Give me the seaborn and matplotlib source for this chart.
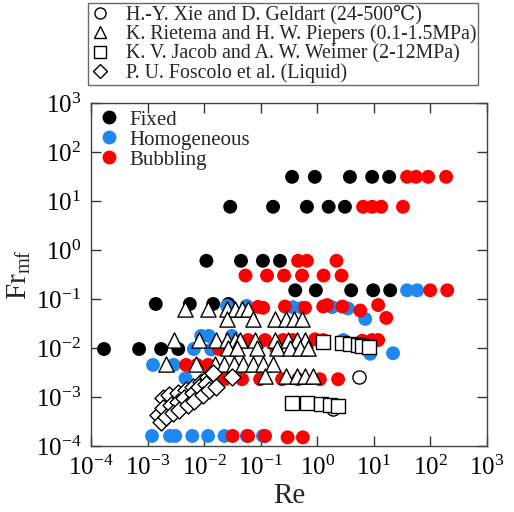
import numpy as np
import pandas as pd
import matplotlib
matplotlib.use("Agg")
import matplotlib.pyplot as plt
from matplotlib.lines import Line2D
import seaborn as sns

sns.set_style("ticks")
plt.rcParams['font.family'] = ['Liberation Serif', 'DejaVu Serif', 'Noto Sans CJK SC']
plt.rcParams['mathtext.fontset'] = 'custom'
plt.rcParams['mathtext.rm'] = 'Liberation Serif'
plt.rcParams['mathtext.it'] = 'Liberation Serif:italic'

# ---- data ----
fixed_re = [0.36, 0.91, 3.8, 9.4, 18.8,
            0.029, 0.166, 0.66, 1.6, 3.1,
            0.011, 0.045, 0.11, 0.22,
            0.41, 0.95, 4.0, 9.8, 19.6,
            0.0014, 0.0056, 0.0145, 0.027,
            1.7e-4, 7.1e-4, 1.74e-3, 3.5e-3]
fixed_fr = [31, 31, 31, 31, 31,
            7.6, 7.6, 7.6, 7.6, 7.6,
            0.6, 0.6, 0.6, 0.6,
            0.15, 0.15, 0.15, 0.15, 0.15,
            0.079, 0.079, 0.079, 0.079,
            0.0095, 0.0095, 0.0095, 0.0095]

homo_re = [0.0012, 0.0025, 0.0031, 0.0062, 0.0118, 0.023, 0.057, 0.11,
           0.0255, 0.057, 0.37, 0.54, 1.84, 3.5, 7.1,
           39, 59,
           0.0089, 0.0122, 0.031,
           0.0066, 0.0134, 2.9,
           8.7, 22,
           0.00125, 0.0029, 0.0047]
homo_fr = [1.6e-4, 1.6e-4, 1.6e-4, 1.6e-4, 1.6e-4, 1.6e-4, 1.6e-4, 1.6e-4,
           0.072, 0.072, 0.068, 0.066, 0.068, 0.064, 0.039,
           0.15, 0.15,
           0.0176, 0.0176, 0.0176,
           0.0095, 0.0093, 0.0145,
           0.0076, 0.0078,
           0.0045, 0.0045, 0.0024]

bub_re = [39, 56, 92, 191,
          6.5, 9.4, 13.6, 33,
          0.46, 0.66, 2.2,
          0.054, 0.13, 0.26, 0.54, 1.3, 2.7,
          100, 200,
          0.090, 0.111, 0.27, 0.61, 1.28, 1.5, 2.8, 5.8, 12, 16.7,
          0.060, 0.12, 0.25, 0.37, 0.92, 1.28, 6.3, 9.4, 12,
          0.0185, 0.19,
          0.0048, 0.0075, 0.0118,
          0.023, 0.047, 0.098, 0.24, 0.46, 1.12, 2.35,
          0.032, 0.060, 0.12, 0.30, 0.56]
bub_fr = [31, 31, 31, 31,
          7.6, 7.6, 7.6, 7.6,
          0.6, 0.6, 0.6,
          0.30, 0.30, 0.30, 0.30, 0.30, 0.30,
          0.15, 0.15,
          0.069, 0.066, 0.070, 0.066, 0.070, 0.075, 0.070, 0.058, 0.075, 0.041,
          0.0145, 0.0145, 0.0145, 0.0145, 0.015, 0.0145, 0.014, 0.0145, 0.0145,
          0.0095, 0.0095,
          0.0045, 0.0045, 0.0045,
          0.0023, 0.0023, 0.0023, 0.0023, 0.0023, 0.0023, 0.0023,
          1.6e-4, 1.6e-4, 1.6e-4, 1.5e-4, 1.5e-4]

xie_re = [1.9, 5.5]
xie_fr = [5.8e-4, 2.6e-3]

riet_re = [0.0046, 0.0118, 0.0255, 0.0354, 0.0471, 0.060,
           0.0255, 0.0736, 0.181, 0.282, 0.392, 0.543,
           0.0029, 0.0082, 0.0163, 0.0255, 0.0354, 0.0434, 0.080, 0.181, 0.307, 0.443, 0.614,
           0.0266, 0.0384, 0.0867, 0.196, 0.333, 0.50, 0.693,
           0.0021, 0.0072, 0.0157, 0.0226, 0.034, 0.049, 0.0736, 0.111, 0.166,
           0.120, 0.282, 0.443, 0.614, 0.849]
riet_fr = [0.063, 0.063, 0.063, 0.063, 0.063, 0.063,
           0.039, 0.039, 0.039, 0.039, 0.039, 0.039,
           0.0145, 0.0145, 0.0145, 0.0145, 0.0145, 0.0145, 0.0145, 0.0145, 0.0145, 0.0145, 0.0145,
           0.010, 0.010, 0.010, 0.010, 0.010, 0.010, 0.010,
           0.0047, 0.0047, 0.0047, 0.0047, 0.0047, 0.0047, 0.0047, 0.0047, 0.0047,
           0.0027, 0.0027, 0.0027, 0.0027, 0.0027]

jacob_re = [1.28, 2.7, 3.8, 5.3, 6.3, 8.3,
            0.36, 0.66, 1.17, 1.7, 2.35]
jacob_fr = [0.013, 0.0125, 0.012, 0.0115, 0.011, 0.0105,
            7.6e-4, 7.4e-4, 7.2e-4, 7.0e-4, 6.6e-4]

fosc_re = [0.00188, 0.0024, 0.00347, 0.0048, 0.0064, 0.0089, 0.0118, 0.0144,
           0.00153, 0.00188, 0.0026, 0.00347, 0.00443, 0.0064, 0.0082, 0.0108,
           0.00173, 0.00212, 0.00282, 0.0036, 0.0052, 0.0066, 0.0096, 0.0122, 0.0163,
           0.0313]
fosc_fr = [0.00095, 0.0011, 0.0012, 0.00139, 0.0016, 0.0020, 0.0026, 0.0031,
           0.00043, 0.00060, 0.00069, 0.00079, 0.00095, 0.0012, 0.0016, 0.0018,
           0.00031, 0.00039, 0.00047, 0.00054, 0.00069, 0.00082, 0.0011, 0.00139, 0.0016,
           0.0026]

regimes = ["Fixed", "Homogeneous", "Bubbling"]
regime_colors = {"Fixed": "black", "Homogeneous": "#1E88F0", "Bubbling": "#FF0000"}

sources = ["H.-Y. Xie and D. Geldart (24-500\u2103)",
           "K. Rietema and H. W. Piepers (0.1-1.5MPa)",
           "K. V. Jacob and A. W. Weimer (2-12MPa)",
           "P. U. Foscolo et al. (Liquid)"]
source_markers = {sources[0]: "o", sources[1]: "^", sources[2]: "s", sources[3]: "D"}

# ---- tables ----
df_reg = pd.DataFrame({
    "Re": fixed_re + homo_re + bub_re,
    "Fr": fixed_fr + homo_fr + bub_fr,
    "regime": ["Fixed"] * len(fixed_re) + ["Homogeneous"] * len(homo_re) + ["Bubbling"] * len(bub_re),
})
df_src = pd.DataFrame({
    "Re": xie_re + riet_re + jacob_re + fosc_re,
    "Fr": xie_fr + riet_fr + jacob_fr + fosc_fr,
    "source": [sources[0]] * len(xie_re) + [sources[1]] * len(riet_re)
              + [sources[2]] * len(jacob_re) + [sources[3]] * len(fosc_re),
})

fig = plt.figure(figsize=(5.14, 5.12), dpi=100)
ax = fig.add_axes([0.177, 0.129, 0.770, 0.670])

sns.scatterplot(data=df_reg, x="Re", y="Fr", hue="regime", hue_order=regimes,
                palette=regime_colors, s=100, edgecolor="none", linewidth=0,
                ax=ax, legend=False, zorder=2)
for src in sources:
    sub = df_src[df_src["source"] == src]
    m = source_markers[src]
    size = {"o": 90, "^": 120, "s": 95, "D": 75}[m]
    sns.scatterplot(data=sub, x="Re", y="Fr", marker=m, s=size,
                    facecolor="white", edgecolor="black", linewidth=1.0,
                    ax=ax, legend=False, zorder=3)

ax.set_xscale("log")
ax.set_yscale("log")
ax.set_xlim(1e-4, 1e3)
ax.set_ylim(1e-4, 1e3)
ticks = [10.0 ** k for k in range(-4, 4)]
labels = [r"$\mathregular{10^{%d}}$" % k for k in range(-4, 4)]
ax.set_xticks(ticks)
ax.set_xticklabels(labels)
ax.set_yticks(ticks)
ax.set_yticklabels(labels)
ax.minorticks_off()
ax.tick_params(which="major", direction="in", length=7, width=1.0,
               top=True, right=True, labelsize=18, pad=7, colors="#333333",
               labelcolor="black")
for sp in ax.spines.values():
    sp.set_color("#444444")
    sp.set_linewidth(1.0)
ax.set_xlabel("Re", fontsize=21, labelpad=2)
ax.set_ylabel(r"$\mathregular{Fr_{mf}}$", fontsize=21, labelpad=2)

# inner legend (regimes)
reg_handles = [Line2D([], [], marker="o", linestyle="none", markersize=10,
                      markerfacecolor=regime_colors[r], markeredgecolor="none")
               for r in regimes]
ax.legend(reg_handles, regimes, loc="upper left", frameon=False, fontsize=15,
          handletextpad=0.5, labelspacing=0.02, borderaxespad=0.15,
          handlelength=1.0, borderpad=0.2)

# outer legend (sources)
src_handles = [Line2D([], [], marker=source_markers[s], linestyle="none",
                      markersize={"o": 8, "^": 9, "s": 8, "D": 7}[source_markers[s]],
                      markerfacecolor="white", markeredgecolor="black",
                      markeredgewidth=1.0) for s in sources]
leg = fig.legend(src_handles, sources, loc="upper left",
                 bbox_to_anchor=(88 / 514, 1 - 3 / 512), frameon=True, fontsize=14.3,
                 handletextpad=0.8, labelspacing=0.0, borderpad=0.1,
                 handlelength=1.0, borderaxespad=0, fancybox=False)
leg.get_frame().set_edgecolor("#444444")
leg.get_frame().set_linewidth(1.0)

fig.savefig("out.png", dpi=100)
